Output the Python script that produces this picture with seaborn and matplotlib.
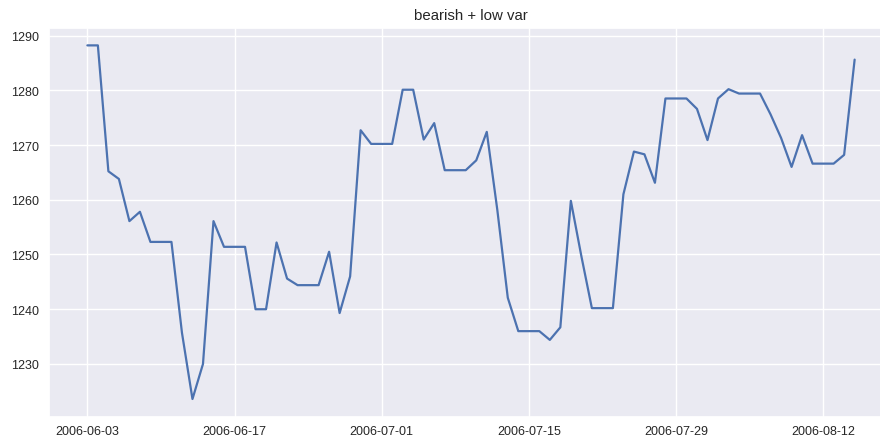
import matplotlib
matplotlib.use("Agg")
import matplotlib.pyplot as plt
import matplotlib.dates as mdates
import pandas as pd
import seaborn as sns

TITLE = "bearish + low var"
START_DATE = "2006-06-03"

# daily closing values (2006-06-03 .. 2006-08-15)
values = [
    1288.2, 1288.2, 1265.2, 1263.8, 1256.1, 1257.8, 1252.3, 1252.3, 1252.3, 1235.7,
    1223.6, 1230.0, 1256.1, 1251.4, 1251.4, 1251.4, 1240.0, 1240.0, 1252.2, 1245.6,
    1244.4, 1244.4, 1244.4, 1250.5, 1239.3, 1246.0, 1272.7, 1270.2, 1270.2, 1270.2,
    1280.1, 1280.1, 1271.0, 1274.0, 1265.4, 1265.4, 1265.4, 1267.2, 1272.4, 1258.2,
    1242.1, 1236.0, 1236.0, 1236.0, 1234.4, 1236.7, 1259.8, 1249.7, 1240.2, 1240.2,
    1240.2, 1261.0, 1268.8, 1268.3, 1263.1, 1278.5, 1278.5, 1278.5, 1276.6, 1270.9,
    1278.5, 1280.2, 1279.4, 1279.4, 1279.4, 1275.6, 1271.3, 1266.0, 1271.8, 1266.6,
    1266.6, 1266.6, 1268.2, 1285.6,
]

x_ticks = ["2006-06-03", "2006-06-17", "2006-07-01", "2006-07-15", "2006-07-29", "2006-08-12"]
y_ticks = [1230, 1240, 1250, 1260, 1270, 1280, 1290]


def main():
    sns.set_theme(style="darkgrid")
    plt.rcParams["font.family"] = ["Liberation Sans", "DejaVu Sans"]

    df = pd.DataFrame({
        "date": pd.date_range(START_DATE, periods=len(values), freq="D"),
        "value": values,
    })

    fig = plt.figure(figsize=(8.8, 4.39), dpi=100)
    # the original image is cut on the right, so the axes runs past the edge
    ax = fig.add_axes([49 / 880, 21.3 / 439, 844 / 880, 389 / 439])

    sns.lineplot(data=df, x="date", y="value", ax=ax, color="#4C72B0", linewidth=1.6)

    ax.set_xticks(pd.to_datetime(x_ticks))
    ax.xaxis.set_major_formatter(mdates.DateFormatter("%Y-%m-%d"))
    ax.set_yticks(y_ticks)
    ax.tick_params(axis="both", labelsize=9, colors="#262626", length=0)
    ax.tick_params(axis="x", pad=6)
    ax.tick_params(axis="y", pad=7)
    ax.set_xlabel("")
    ax.set_ylabel("")
    ax.set_title(TITLE, fontsize=10.8, color="#262626")

    fig.savefig("out.png", dpi=100)
    plt.close(fig)


if __name__ == "__main__":
    main()
